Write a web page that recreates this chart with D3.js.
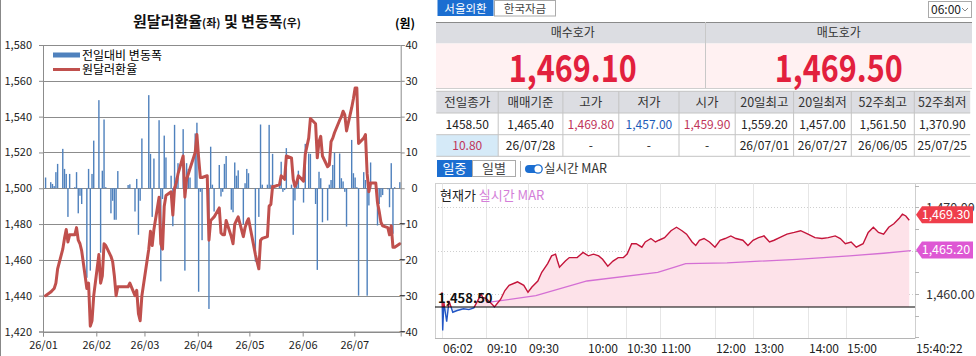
<!DOCTYPE html>
<html>
<head>
<meta charset="utf-8">
<script src="https://cdn.jsdelivr.net/npm/d3@7"></script>
<style>
  body { margin: 0; background: #fff; }
  svg { display: block; }
  text { font-family: "Noto Sans CJK KR", "Noto Sans", sans-serif; }
</style>
</head>
<body>
<svg id="chart" width="976" height="356"></svg>
<script>
// ---- left chart data (2026, trading days per month Jan..Jul) ----
var tradeDays = [
  [2,5,6,7,8,9,12,13,14,15,16,19,20,21,22,23,26,27,28,29,30],
  [2,3,4,5,6,9,10,11,12,13,19,20,23,24,25,26,27],
  [3,4,5,6,9,10,11,12,13,16,17,18,19,20,23,24,25,26,27,30,31],
  [1,2,3,6,7,8,9,10,13,14,15,16,17,20,21,22,23,24,27,28,29,30],
  [4,6,7,8,11,12,13,14,15,18,19,20,21,22,25,26,27,28,29],
  [1,2,4,5,8,9,10,11,12,15,16,17,18,19,22,23,24,25,26,29,30],
  [1,2,3,6,7,8,9,10,13,14,15,16,17,20,21,22,23,24,27]
];
var rateValues = [
  1440,1442,1443,1444,1447,1455,1466,1472,1477,1470,1474,1474,1478,1471,1469,1465,1444,1447,1423,1426,1440,
  1463,1447,1451,1469,1468,1462,1459,1451,1440,1445,1445,1447,1440,1443,1430,1426,1440,
  1466,1476,1468,1477,1495,1469,1466,1490,1496,1498,1485,1500,1503,1508,1518,1495,1505,1508,1511,1520,1530,
  1517,1506,1506,1507,1471,1482,1483,1484,1489,1475,1474,1474,1482,1473,1469,1480,1482,1484,1473,1478,1481,1483,
  1463,1455,1471,1472,1473,1490,1491,1501,1501,1502,1507,1506,1505,1518,1517,1505,1501,1503,1507,
  1504,1519,1528,1539,1536,1517,1526,1529,1518,1512,1513,1526,1528,1531,1538,1540,1543,1541,1532,1545,1550,
  1556,1556,1525,1528,1530,1508,1498,1503,1503,1492,1487,1481,1479,1478,1474,1479,1467,1467,1469
];
var changeValues = [
  3,1.7,1.2,0.6,4.5,6.8,11,5.4,4,-8,4,0.3,4.5,-7,-2.1,-4.4,-25,5.4,-23,4,13.3,
  24.6,-18,4.9,19.2,0.3,-7,-3.5,-8.8,-8.8,4.8,0.9,1.1,-6.5,2.6,-13,-3.5,13.9,
  26,9.6,-8,8.3,19,-26,-3,14.7,8.6,3.5,-10.6,17.7,3,7,16.5,-23,7,5.4,3,15.3,18.3,
  -28.9,-1,-14.5,1,-33.7,11.6,1,-6.5,6.5,-2.3,-1,6.8,9,-6,-6.7,7.2,3.5,5,-10,1.4,5.4,4.2,
  -20.5,-8,17.8,1,1,17.7,1,9.6,0.3,1,7.4,-1,-0.5,11.2,1,-13,-3.4,1.6,4.9,
  -4,12.4,9.7,9.6,-4.4,-22.8,4.6,2.8,-9.5,-9,1,2.3,6.5,9.9,9.7,2.8,1.9,-1,-10.7,13.5,4.2,
  3,0.3,-30,4.5,2.3,-30,-4.8,7.2,0.3,-10.4,-4.4,-2.5,-1.9,-0.3,-5.3,7,-12.7,0.3,1.7
];
var leftTicks = [1420,1440,1460,1480,1500,1520,1540,1560,1580];
var rightTicks = [-40,-30,-20,-10,0,10,20,30,40];

// ---- right panel data ----
var quoteLabels = ["매수호가", "매도호가"];
var quoteValues = ["1,469.10", "1,469.50"];
var tableHeaders = ["전일종가","매매기준","고가","저가","시가","20일최고","20일최저","52주최고","52주최저"];
var tableRow1 = ["1458.50","1,465.40","1,469.80","1,457.00","1,459.90","1,559.20","1,457.00","1,561.50","1,370.90"];
var tableRow2 = ["10.80","26/07/28","-","-","-","26/07/01","26/07/27","26/06/05","25/07/25"];
var prevClose = 1458.5;
var timeTicks = ["06:02","09:10","09:30","10:00","10:30","11:00","12:00","13:00","14:00","15:00","15:40:22"];
var priceTimes = ["06:02","06:05","06:10","06:22","06:32","06:48","07:07","07:34","07:57","08:18","08:34","08:49","08:56","09:10","09:13","09:14","09:17","09:19","09:21","09:24","09:25","09:28","09:30","09:32","09:35","09:37","09:40","09:42","09:44","09:45","09:46","09:49","09:51","09:55","09:58","10:01","10:05","10:09","10:12","10:16","10:20","10:24","10:28","10:31","10:35","10:39","10:44","10:47","10:52","10:56","10:59","11:05","11:12","11:18","11:24","11:29","11:35","11:39","11:43","11:48","11:54","12:00","12:08","12:16","12:25","12:33","12:44","12:52","13:00","13:06","13:12","13:18","13:23","13:29","13:37","13:45","13:52","14:00","14:11","14:22","14:32","14:43","14:51","14:59","15:03","15:06","15:10","15:13","15:16","15:19","15:22","15:25","15:28","15:31","15:33","15:35","15:37"];
var priceValues = [1460.2,1455.8,1459.0,1456.8,1459.2,1457.9,1458.1,1458.3,1458.2,1458.4,1459.2,1460.0,1459.6,1459.5,1458.8,1458.5,1459.4,1460.4,1461.0,1461.3,1461.4,1461.0,1460.2,1460.8,1461.5,1462.5,1463.5,1464.4,1464.6,1463.8,1463.1,1463.8,1464.2,1464.2,1464.8,1464.4,1464.6,1464.4,1464.0,1463.2,1463.8,1464.2,1464.2,1464.6,1465.8,1465.8,1465.4,1466.0,1466.4,1466.0,1466.2,1466.5,1467.3,1467.7,1467.3,1466.9,1466.0,1465.6,1466.2,1466.4,1466.0,1465.4,1466.2,1466.4,1466.7,1466.4,1466.2,1465.6,1466.2,1466.5,1466.7,1466.0,1466.2,1466.5,1466.9,1467.1,1467.3,1466.9,1466.5,1466.4,1466.5,1466.7,1466.4,1465.8,1466.0,1465.4,1465.8,1467.1,1467.7,1467.1,1466.9,1467.7,1468.1,1468.7,1469.2,1469.0,1468.5];
var marTimes = ["09:10","09:34","10:00","10:58","11:16","11:28","12:19","13:48","15:02","15:22","15:38"];
var marValues = [1459.0,1459.8,1461.5,1462.5,1463.1,1463.5,1463.6,1464.0,1464.4,1464.7,1465.0];
var tagValues = [1469.3, 1465.2];

var svg = d3.select("#chart");
var blue = "#1b6ed1";

// =================== LEFT CHART ===================
var dates = [];
tradeDays.forEach(function (days, m) {
  days.forEach(function (d) { dates.push(new Date(2026, m, d, 12)); });
});
var rows = dates.map(function (d, i) { return { date: d, rate: rateValues[i], chg: changeValues[i] }; });

svg.append("line").attr("x1", 0.5).attr("x2", 0.5).attr("y1", 0).attr("y2", 356)
  .attr("stroke", "#888");

var L = { left: 43, right: 400.7, top: 45, bottom: 331.5 };
var x = d3.scaleTime().domain([new Date(2026, 0, 1), new Date(2026, 6, 28)]).range([L.left, L.right]);
var yL = d3.scaleLinear().domain([1420, 1580]).range([L.bottom, L.top]);
var yR = d3.scaleLinear().domain([-40, 40]).range([L.bottom, L.top]);

// title
var title = svg.append("text").attr("x", 217).attr("y", 27).attr("text-anchor", "middle")
  .attr("font-weight", "bold").attr("font-size", 15).attr("fill", "#111");
title.append("tspan").text("원달러환율");
title.append("tspan").attr("font-size", 11).text("(좌)");
title.append("tspan").text(" 및 변동폭");
title.append("tspan").attr("font-size", 11).text("(우)");
svg.append("text").attr("x", 405).attr("y", 28).attr("text-anchor", "middle")
  .attr("font-weight", "bold").attr("font-size", 12).text("(원)");

// gridlines
svg.append("g").selectAll("line").data(leftTicks).join("line")
  .attr("x1", L.left).attr("x2", L.right)
  .attr("y1", function (d) { return Math.round(yL(d)) + 0.5; })
  .attr("y2", function (d) { return Math.round(yL(d)) + 0.5; })
  .attr("stroke", "#8c8c8c");

// bars
svg.append("g").selectAll("rect").data(rows).join("rect")
  .attr("x", function (d) { return x(d.date) - 0.7; })
  .attr("width", 1.4)
  .attr("y", function (d) { return Math.min(yR(0), yR(d.chg)); })
  .attr("height", function (d) { return Math.abs(yR(d.chg) - yR(0)); })
  .attr("fill", "#4f81bd");

// rate line
var rateLine = d3.line().x(function (d) { return x(d.date); }).y(function (d) { return yL(d.rate); });
svg.append("path").datum(rows).attr("d", rateLine)
  .attr("fill", "none").attr("stroke", "#c0504d").attr("stroke-width", 3)
  .attr("stroke-linejoin", "round").attr("stroke-linecap", "round");

// axes
var axL = svg.append("g").attr("transform", "translate(" + L.left + ",0)")
  .call(d3.axisLeft(yL).tickValues(leftTicks).tickFormat(d3.format(",")).tickSize(4).tickPadding(7));
var axR = svg.append("g").attr("transform", "translate(" + L.right + ",0)")
  .call(d3.axisRight(yR).tickValues(rightTicks).tickSize(4).tickPadding(5));
axR.selectAll("text").attr("text-anchor", "end").attr("x", 17);
var axX = svg.append("g").attr("transform", "translate(0," + L.bottom + ")")
  .call(d3.axisBottom(x).ticks(d3.timeMonth.every(1)).tickFormat(d3.timeFormat("%y/%m")).tickSize(5).tickPadding(5));
[axL, axR, axX].forEach(function (a) {
  a.select(".domain").attr("stroke", "#8c8c8c");
  a.selectAll(".tick line").attr("stroke", "#8c8c8c");
  a.selectAll("text").attr("font-size", 11).attr("fill", "#222")
    .attr("font-family", "'Noto Sans', sans-serif");
});

// legend
svg.append("rect").attr("x", 53).attr("y", 52.5).attr("width", 27).attr("height", 5).attr("fill", "#4f81bd");
svg.append("text").attr("x", 82).attr("y", 60).attr("font-size", 12).text("전일대비 변동폭");
svg.append("line").attr("x1", 53).attr("x2", 80).attr("y1", 69.5).attr("y2", 69.5)
  .attr("stroke", "#c0504d").attr("stroke-width", 3);
svg.append("text").attr("x", 82).attr("y", 74).attr("font-size", 12).text("원달러환율");

// =================== RIGHT PANEL ===================
var P = { left: 436, right: 972 };

// tabs
svg.append("rect").attr("x", 437.5).attr("y", 0).attr("width", 56).attr("height", 16).attr("fill", blue);
svg.append("text").attr("x", 465.5).attr("y", 13).attr("text-anchor", "middle")
  .attr("font-size", 11.5).attr("fill", "#fff").text("서울외환");
svg.append("rect").attr("x", 494.5).attr("y", 0.5).attr("width", 61).attr("height", 15.5)
  .attr("fill", "#fff").attr("stroke", "#aaa");
svg.append("text").attr("x", 525).attr("y", 13).attr("text-anchor", "middle")
  .attr("font-size", 11.5).attr("fill", "#444").text("한국자금");
svg.append("rect").attr("x", 928.5).attr("y", 1.5).attr("width", 43).attr("height", 16)
  .attr("fill", "#fff").attr("stroke", "#aaa");
svg.append("text").attr("x", 931).attr("y", 14).attr("font-size", 12).attr("fill", "#222").text("06:00");
svg.append("path").attr("d", "M962,8 L965,11 L968,8").attr("fill", "none").attr("stroke", "#888");

// quote header + big numbers
var half = 705.5;
svg.append("rect").attr("x", P.left).attr("y", 22).attr("width", P.right - P.left).attr("height", 21.5).attr("fill", "#dcdde2");
svg.append("line").attr("x1", P.left).attr("x2", P.right).attr("y1", 22.5).attr("y2", 22.5).attr("stroke", "#8a8a8a");
svg.append("rect").attr("x", P.left).attr("y", 43.5).attr("width", P.right - P.left).attr("height", 45).attr("fill", "#fff1f2");
svg.append("line").attr("x1", P.left).attr("x2", P.right).attr("y1", 88.5).attr("y2", 88.5).attr("stroke", "#cfcfcf");
svg.append("line").attr("x1", half).attr("x2", half).attr("y1", 22).attr("y2", 88).attr("stroke", "#c8c8c8");
var qx = [(P.left + half) / 2 + 2, (half + P.right) / 2];
quoteLabels.forEach(function (t, i) {
  svg.append("text").attr("x", qx[i]).attr("y", 36.5).attr("text-anchor", "middle")
    .attr("font-size", 12).attr("fill", "#333").text(t);
  svg.append("text").attr("x", qx[i]).attr("y", 82).attr("text-anchor", "middle")
    .attr("font-family", "Roboto, sans-serif").attr("font-weight", "bold").attr("font-size", 37)
    .attr("fill", "#e2203d").attr("textLength", 128).attr("lengthAdjust", "spacingAndGlyphs").text(quoteValues[i]);
});

// info table
var colX = [436.3, 498.2, 562.9, 618.8, 679, 735.2, 793.6, 851.3, 914.3, 970.2];
var rowY = [91.3, 113, 134.7, 156.3];
var tbl = svg.append("g");
tbl.append("rect").attr("x", colX[0]).attr("y", rowY[0]).attr("width", colX[9] - colX[0])
  .attr("height", rowY[1] - rowY[0]).attr("fill", "#dcdde2");
tbl.append("rect").attr("x", colX[0]).attr("y", rowY[2]).attr("width", colX[1] - colX[0])
  .attr("height", rowY[3] - rowY[2]).attr("fill", "#d5eaf8");
rowY.forEach(function (yy) {
  tbl.append("line").attr("x1", colX[0]).attr("x2", colX[9]).attr("y1", yy).attr("y2", yy).attr("stroke", "#c4c4c4");
});
colX.slice(1, 9).forEach(function (xx) {
  tbl.append("line").attr("x1", xx).attr("x2", xx).attr("y1", rowY[0]).attr("y2", rowY[3]).attr("stroke", "#c4c4c4");
});
var row1Colors = ["#222", "#222", "#c0355a", "#1e5bb8", "#c0355a", "#222", "#222", "#222", "#222"];
tableHeaders.forEach(function (h, i) {
  var cx = (colX[i] + colX[i + 1]) / 2;
  tbl.append("text").attr("x", cx).attr("y", rowY[0] + 15.5).attr("text-anchor", "middle")
    .attr("font-size", 12.5).attr("fill", "#333").text(h);
  tbl.append("text").attr("x", cx).attr("y", rowY[1] + 15.5).attr("text-anchor", "middle")
    .attr("font-size", 12).attr("fill", row1Colors[i]).text(tableRow1[i]);
  tbl.append("text").attr("x", cx).attr("y", rowY[2] + 15.5).attr("text-anchor", "middle")
    .attr("font-size", 12).attr("fill", i === 0 ? "#c0355a" : "#222").text(tableRow2[i]);
});

// intraday toggles
svg.append("rect").attr("x", 437).attr("y", 160).attr("width", 35).attr("height", 17).attr("fill", blue);
svg.append("text").attr("x", 454.5).attr("y", 173).attr("text-anchor", "middle").attr("font-size", 13).attr("fill", "#fff").text("일중");
svg.append("rect").attr("x", 472.5).attr("y", 160.5).attr("width", 43).attr("height", 16).attr("fill", "#fff").attr("stroke", "#aaa");
svg.append("text").attr("x", 494).attr("y", 173).attr("text-anchor", "middle").attr("font-size", 13).attr("fill", "#444").text("일별");
svg.append("line").attr("x1", 520.5).attr("x2", 520.5).attr("y1", 161).attr("y2", 177).attr("stroke", "#aaa");
svg.append("rect").attr("x", 525).attr("y", 165).attr("width", 17).attr("height", 8).attr("rx", 4).attr("fill", blue);
svg.append("circle").attr("cx", 538).attr("cy", 169).attr("r", 4.2).attr("fill", "#fff").attr("stroke", blue).attr("stroke-width", 1.3);
svg.append("text").attr("x", 544).attr("y", 173).attr("font-size", 12.5).attr("fill", "#333").text("실시간 MAR");

// intraday chart
var toMin = function (s) { var p = s.split(":").map(Number); return p[0] * 60 + p[1] + (p[2] || 0) / 60; };
var tickX = [442, 486, 528, 587, 626, 660, 715, 753, 808, 846, 915];
var xI = d3.scaleLinear().domain(timeTicks.map(toMin)).range(tickX);
var yI = d3.scaleLinear().domain([1460, 1470]).range([294, 207.3]);
var C = { left: 435, right: 915, top: 183.5, bottom: 338.5 };
var base = yI(prevClose);

var chartG = svg.append("g");
chartG.append("line").attr("x1", C.left).attr("x2", 976).attr("y1", C.top).attr("y2", C.top).attr("stroke", "#d0d0d0");
chartG.append("line").attr("x1", C.left + 0.5).attr("x2", C.left + 0.5).attr("y1", C.top).attr("y2", C.bottom).attr("stroke", "#d0d0d0");
chartG.selectAll(".vg").data(timeTicks).join("line").attr("class", "vg")
  .attr("x1", function (d) { return Math.round(xI(toMin(d))) + 0.5; })
  .attr("x2", function (d) { return Math.round(xI(toMin(d))) + 0.5; })
  .attr("y1", C.top).attr("y2", C.bottom).attr("stroke", "#e6e6e6");
chartG.selectAll(".hg").data([1470, 1465, 1460]).join("line").attr("class", "hg")
  .attr("x1", C.left).attr("x2", C.right)
  .attr("y1", function (d) { return Math.round(yI(d)) + 0.5; })
  .attr("y2", function (d) { return Math.round(yI(d)) + 0.5; })
  .attr("stroke", "#cfcfcf").attr("stroke-dasharray", "1,2");

var price = priceTimes.map(function (t, i) { return { t: toMin(t), v: priceValues[i] }; });
var mar = marTimes.map(function (t, i) { return { t: toMin(t), v: marValues[i] }; });

var defs = svg.append("defs");
defs.append("clipPath").attr("id", "above").append("rect")
  .attr("x", C.left).attr("y", C.top).attr("width", C.right - C.left).attr("height", base - C.top);
defs.append("clipPath").attr("id", "below").append("rect")
  .attr("x", C.left).attr("y", base).attr("width", C.right - C.left).attr("height", C.bottom - base);

var area = d3.area().x(function (d) { return xI(d.t); }).y0(base).y1(function (d) { return yI(d.v); });
var pline = d3.line().x(function (d) { return xI(d.t); }).y(function (d) { return yI(d.v); });
chartG.append("path").datum(price).attr("d", area).attr("fill", "#fde2e9").attr("clip-path", "url(#above)");
chartG.append("path").datum(price).attr("d", area).attr("fill", "#dde6f8").attr("clip-path", "url(#below)");
chartG.append("path").datum(mar).attr("d", pline).attr("fill", "none").attr("stroke", "#d46fd4").attr("stroke-width", 1.3);
chartG.append("path").datum(price).attr("d", pline).attr("fill", "none").attr("stroke", "#c4143a")
  .attr("stroke-width", 1.4).attr("clip-path", "url(#above)");
chartG.append("path").datum(price).attr("d", pline).attr("fill", "none").attr("stroke", "#2356c4")
  .attr("stroke-width", 1.4).attr("clip-path", "url(#below)");
chartG.append("line").attr("x1", C.left).attr("x2", C.right).attr("y1", base).attr("y2", base)
  .attr("stroke", "#000").attr("stroke-width", 1.2);
chartG.append("text").attr("x", 438).attr("y", base - 4).attr("font-weight", "bold").attr("font-size", 13)
  .attr("fill", "#111").text(d3.format(",.2f")(prevClose));

// axes of intraday chart
chartG.append("line").attr("x1", C.left).attr("x2", C.right).attr("y1", C.bottom).attr("y2", C.bottom).attr("stroke", "#b5b5b5");
chartG.append("line").attr("x1", C.right + 0.5).attr("x2", C.right + 0.5).attr("y1", C.top).attr("y2", C.bottom).attr("stroke", "#cfcfcf");
chartG.selectAll(".rt").data(d3.range(1455, 1472.6, 2.5)).join("line").attr("class", "rt")
  .attr("x1", C.right).attr("x2", C.right + 4)
  .attr("y1", function (d) { return Math.round(yI(d)) + 0.5; })
  .attr("y2", function (d) { return Math.round(yI(d)) + 0.5; })
  .attr("stroke", "#b5b5b5");
chartG.selectAll(".yl").data([1470, 1460]).join("text").attr("class", "yl")
  .attr("x", 926).attr("y", function (d) { return yI(d) + 4.5; })
  .attr("font-size", 12.5).attr("fill", "#333").text(function (d) { return d3.format(",.2f")(d); });
chartG.selectAll(".xl").data(timeTicks).join("text").attr("class", "xl")
  .attr("x", function (d) { return xI(toMin(d)) + 1; }).attr("y", 352.5)
  .attr("font-size", 12).attr("fill", "#222").text(function (d) { return d; });

// label
var lab = chartG.append("text").attr("x", 440).attr("y", 200).attr("font-size", 13).attr("fill", "#222");
lab.append("tspan").text("현재가 ");
lab.append("tspan").attr("fill", "#d47ed8").text("실시간 MAR");

// value tags (drawn over the axis labels)
var tagFill = ["#ef3e4b", "#de58d4"];
var tagShift = [1.5, 1];
tagValues.forEach(function (v, i) {
  var cy = yI(v) + tagShift[i];
  chartG.append("path")
    .attr("d", "M" + (C.right + 1) + "," + cy + " L" + (C.right + 7) + "," + (cy - 8.5) + " L973," + (cy - 8.5) +
      " L973," + (cy + 8.5) + " L" + (C.right + 7) + "," + (cy + 8.5) + " Z")
    .attr("fill", tagFill[i]);
  chartG.append("text").attr("x", 946).attr("y", cy + 4.5).attr("text-anchor", "middle")
    .attr("font-size", 12.5).attr("fill", "#fff").text(d3.format(",.2f")(v));
});
</script>
</body>
</html>
